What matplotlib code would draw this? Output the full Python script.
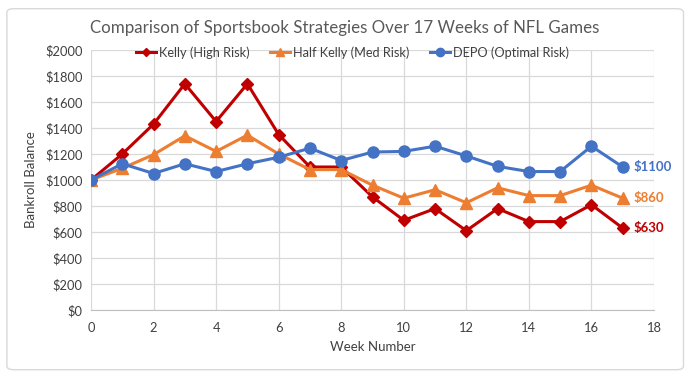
import matplotlib
matplotlib.use("Agg")
import matplotlib.pyplot as plt
from matplotlib.patches import FancyBboxPatch

weeks = list(range(18))
kelly = [1000, 1200, 1430, 1740, 1450, 1740, 1350, 1100, 1100, 870, 690, 780, 610, 780, 680, 680, 810, 630]
half_kelly = [1000, 1090, 1195, 1340, 1220, 1345, 1200, 1080, 1080, 960, 860, 925, 825, 940, 880, 880, 960, 860]
depo = [1000, 1125, 1050, 1125, 1065, 1125, 1175, 1245, 1150, 1215, 1220, 1260, 1185, 1105, 1065, 1065, 1260, 1100]
series_names = ["Kelly (High Risk)", "Half Kelly (Med Risk)", "DEPO (Optimal Risk)"]
end_labels = ["$630", "$860", "$1100"]
yticks = list(range(0, 2001, 200))
xticks = list(range(0, 19, 2))

plt.rcParams['font.family'] = ['Lato', 'DejaVu Sans']
fig = plt.figure(figsize=(6.89, 3.78), dpi=100)
border = FancyBboxPatch((0.010, 0.022), 0.982, 0.955, boxstyle="round,pad=0,rounding_size=0.01",
                        transform=fig.transFigure, facecolor='none', edgecolor='#D9D9D9', lw=1, zorder=-10)
fig.patches.append(border)
ax = fig.add_axes([91/689, 1 - 310/378, (654-91)/689, 260/378])
ax.patch.set_alpha(0)

colors = ['#C00000', '#ED7D31', '#4472C4']
markers = ['D', '^', 'o']
msizes = [6, 8, 8]
data = [kelly, half_kelly, depo]
for d, c, m, ms, n in zip(data, colors, markers, msizes, series_names):
    ax.plot(weeks, d, color=c, marker=m, markersize=ms, lw=2.2, label=n, zorder=3)

for d, c, t in zip(data, colors, end_labels):
    ax.text(weeks[-1] + 0.35, d[-1], t, color=c, fontsize=9.5, fontweight='bold', va='center', ha='left')

ax.set_xlim(0, 18)
ax.set_ylim(0, 2000)
ax.set_xticks(xticks)
ax.set_yticks(yticks)
ax.set_yticklabels([f"${v}" for v in yticks])
ax.grid(True, color='#D9D9D9', lw=0.9)
ax.set_axisbelow(True)
for s in ['top', 'right', 'left']:
    ax.spines[s].set_visible(False)
ax.spines['bottom'].set_color('#BFBFBF')
ax.tick_params(axis='x', length=0, labelsize=9.3, colors='#404040', pad=9)
ax.tick_params(axis='y', length=0, labelsize=9.3, colors='#404040', pad=6)
ax.set_xlabel("Week Number", fontsize=9.5, color='#404040', labelpad=5)
ax.set_ylabel("Bankroll Balance", fontsize=9.5, color='#404040', labelpad=6)
fig.text(0.5, 0.925, "Comparison of Sportsbook Strategies Over 17 Weeks of NFL Games",
         ha='center', va='center', fontsize=12.2, color='#595959')
leg = ax.legend(loc='center', bbox_to_anchor=(0.464, 0.99), ncol=3, frameon=False, fontsize=9.2,
                handlelength=1.6, handletextpad=0.2, columnspacing=1.6, markerscale=0.75)
for t in leg.get_texts():
    t.set_color('#404040')

fig.savefig("out.png", dpi=100)
